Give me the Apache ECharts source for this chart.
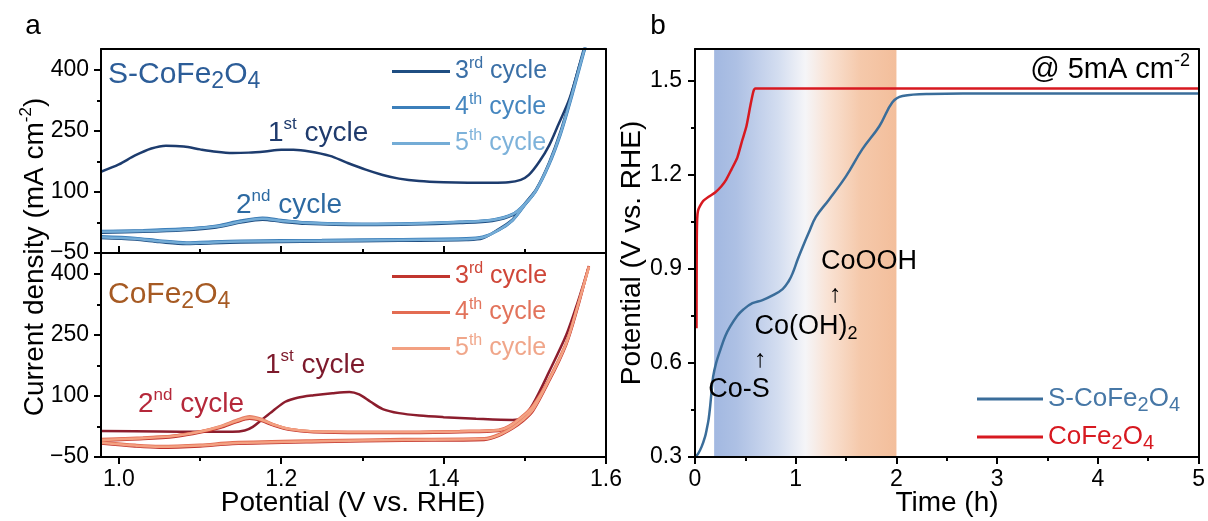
<!DOCTYPE html>
<html>
<head>
<meta charset="utf-8">
<script src="https://cdn.jsdelivr.net/npm/echarts@6/dist/echarts.min.js"></script>
<style>
  html, body { margin: 0; padding: 0; background: #fff; }
  #chart { width: 1208px; height: 521px; }
</style>
</head>
<body>
<div id="chart"></div>
<script>
// panel a, top: S-CoFe2O4 CV cycles  [potential V vs RHE, current mA cm-2]
const sCycle1 = [[0.978,150],[1.00,168],[1.02,190],[1.04,207],[1.058,214],[1.08,212],[1.10,205],[1.12,199],[1.14,196],[1.16,197],[1.18,200],[1.20,204],[1.215,204],[1.235,200],[1.26,189],[1.28,173],[1.304,155],[1.325,142],[1.345,133],[1.37,127],[1.40,124],[1.43,123],[1.46,123],[1.48,124],[1.495,130],[1.505,142],[1.518,175],[1.53,215],[1.54,260],[1.555,330],[1.567,410],[1.575,460]]
const sCycle2 = [[0.978,3],[1.03,5],[1.08,9],[1.12,17],[1.15,30],[1.177,37],[1.20,31],[1.23,25],[1.30,21],[1.36,22],[1.42,26],[1.46,31],[1.485,45],[1.50,70],[1.514,105],[1.53,170],[1.544,245],[1.558,340],[1.573,449],[1.578,480],[1.573,449],[1.558,340],[1.544,245],[1.53,170],[1.514,105],[1.501,72],[1.485,31],[1.468,7],[1.448,-12],[1.428,-16],[1.345,-18],[1.25,-20],[1.15,-22],[1.10,-25],[1.083,-26],[1.05,-21],[1.02,-15],[0.978,-11]]
const sCycle3 = [[0.978,0],[1.03,2],[1.08,6],[1.12,13],[1.15,25],[1.177,32],[1.20,27],[1.23,22],[1.30,19],[1.36,20],[1.42,24],[1.46,29],[1.485,43],[1.50,69],[1.514,106],[1.53,173],[1.544,249],[1.558,345],[1.573,454],[1.578,484],[1.573,454],[1.558,345],[1.544,249],[1.53,173],[1.514,107],[1.501,74],[1.485,33],[1.468,9],[1.448,-14],[1.428,-18],[1.345,-20],[1.25,-22],[1.15,-24],[1.10,-27],[1.083,-28],[1.05,-23],[1.02,-17],[0.978,-13]]
const sCycle4 = [[0.978,4],[1.03,6],[1.08,10],[1.12,16],[1.15,28],[1.177,35],[1.20,30],[1.23,25],[1.30,22],[1.36,23],[1.42,27],[1.46,32],[1.485,46],[1.50,71],[1.514,104],[1.53,167],[1.544,241],[1.558,335],[1.573,444],[1.578,476],[1.573,444],[1.558,335],[1.544,241],[1.53,167],[1.514,103],[1.501,70],[1.485,30],[1.468,6],[1.448,-10],[1.428,-14],[1.345,-16],[1.25,-18],[1.15,-20],[1.10,-23],[1.083,-24],[1.05,-19],[1.02,-13],[0.978,-9]]
const sCycle5 = [[0.978,2],[1.03,4],[1.08,8],[1.12,15],[1.15,27],[1.177,34],[1.20,29],[1.23,24],[1.30,21],[1.36,22],[1.42,26],[1.46,31],[1.485,45],[1.50,70],[1.514,105],[1.53,170],[1.544,245],[1.558,340],[1.573,449],[1.578,480],[1.573,449],[1.558,340],[1.544,245],[1.53,170],[1.514,105],[1.501,72],[1.485,31],[1.468,7],[1.448,-12],[1.428,-16],[1.345,-18],[1.25,-20],[1.15,-22],[1.10,-25],[1.083,-26],[1.05,-21],[1.02,-15],[0.978,-11]]

// panel a, bottom: CoFe2O4 CV cycles
const cCycle1 = [[0.978,14],[1.05,13],[1.10,12],[1.14,12],[1.155,15],[1.165,24],[1.175,40],[1.19,64],[1.205,86],[1.22,96],[1.24,102],[1.263,107],[1.284,110],[1.296,104],[1.31,86],[1.325,68],[1.345,58],[1.37,52],[1.40,48],[1.44,44],[1.485,41],[1.497,47],[1.51,80],[1.53,160],[1.551,250],[1.565,330],[1.579,420]]
const cCycle2 = [[0.978,-7],[1.03,-3],[1.07,3],[1.10,13],[1.125,26],[1.145,41],[1.161,50],[1.175,44],[1.19,31],[1.21,19],[1.24,13],[1.30,11],[1.35,11],[1.42,13],[1.468,16],[1.48,24],[1.497,49],[1.51,74],[1.53,140],[1.551,229],[1.565,320],[1.579,418],[1.565,320],[1.551,229],[1.53,140],[1.51,66],[1.497,40],[1.485,22],[1.468,4],[1.45,-6],[1.35,-8],[1.25,-11],[1.14,-16],[1.10,-22],[1.05,-25],[1.02,-22],[0.978,-15]]
const cCycle3 = [[0.978,-10],[1.03,-6],[1.07,0],[1.10,10],[1.125,22],[1.145,36],[1.161,44],[1.175,39],[1.19,28],[1.21,17],[1.24,11],[1.30,9],[1.35,9],[1.42,11],[1.468,14],[1.48,22],[1.497,46],[1.51,72],[1.53,137],[1.551,226],[1.565,316],[1.578,414],[1.565,316],[1.551,226],[1.53,137],[1.51,63],[1.497,37],[1.485,20],[1.468,2],[1.45,-8],[1.35,-10],[1.25,-13],[1.14,-18],[1.10,-24],[1.05,-27],[1.02,-24],[0.978,-17]]
const cCycle4 = [[0.978,-6],[1.03,-2],[1.07,3],[1.10,13],[1.125,24],[1.145,38],[1.161,46],[1.175,41],[1.19,30],[1.21,19],[1.24,13],[1.30,12],[1.35,12],[1.42,14],[1.468,17],[1.48,26],[1.497,51],[1.51,77],[1.53,143],[1.551,232],[1.565,323],[1.579,420],[1.565,323],[1.551,232],[1.53,143],[1.51,68],[1.497,42],[1.485,24],[1.468,6],[1.45,-4],[1.35,-6],[1.25,-9],[1.14,-14],[1.10,-20],[1.05,-23],[1.02,-20],[0.978,-13]]
const cCycle5 = [[0.978,-8],[1.03,-4],[1.07,2],[1.10,12],[1.125,25],[1.145,39],[1.161,47],[1.175,42],[1.19,30],[1.21,19],[1.24,13],[1.30,11],[1.35,11],[1.42,13],[1.468,16],[1.48,24],[1.497,49],[1.51,74],[1.53,140],[1.551,229],[1.565,320],[1.579,418],[1.565,320],[1.551,229],[1.53,140],[1.51,66],[1.497,40],[1.485,22],[1.468,4],[1.45,-6],[1.35,-8],[1.25,-11],[1.14,-16],[1.10,-22],[1.05,-25],[1.02,-22],[0.978,-15]]

// panel b: chronopotentiometry at 5 mA cm-2  [time h, potential V vs RHE]
const sTrace = [[0,0.30],[0.03,0.31],[0.066,0.333],[0.10,0.365],[0.115,0.386],[0.135,0.42],[0.15,0.46],[0.165,0.51],[0.18,0.556],[0.21,0.60],[0.25,0.64],[0.30,0.685],[0.35,0.716],[0.42,0.75],[0.48,0.77],[0.57,0.79],[0.67,0.80],[0.77,0.815],[0.87,0.835],[0.93,0.86],[0.97,0.886],[1.02,0.93],[1.07,0.97],[1.13,1.015],[1.20,1.065],[1.33,1.12],[1.50,1.195],[1.66,1.28],[1.83,1.354],[1.96,1.43],[2.06,1.45],[2.32,1.457],[3,1.458],[4,1.458],[5,1.458]]
const cTrace = [[0.015,0.71],[0.016,0.85],[0.018,1.0],[0.022,1.06],[0.03,1.085],[0.05,1.10],[0.08,1.115],[0.14,1.13],[0.2,1.143],[0.26,1.162],[0.31,1.184],[0.36,1.215],[0.42,1.254],[0.47,1.31],[0.51,1.353],[0.55,1.42],[0.58,1.465],[0.60,1.474],[1,1.474],[2,1.474],[3,1.474],[4,1.474],[5,1.474]]
const bandRange = [0.19, 2.0]

// ticks
const potTicks = [1.0, 1.2, 1.4, 1.6]
const potMinor = [1.1, 1.3, 1.5]
const curTicks = [-50, 100, 250, 400]
const curMinor = [25, 175, 325]
const timeTicks = [0, 1, 2, 3, 4, 5]
const timeMinor = [0.5, 1.5, 2.5, 3.5, 4.5]
const vTicks = [0.3, 0.6, 0.9, 1.2, 1.5]
const vMinor = [0.45, 0.75, 1.05, 1.35]

const FONT = 'Liberation Sans'

const curFmt = (v) => (v < 0 ? '\u2212' + Math.abs(v) : String(v))
const oneDec = (v) => v.toFixed(1)

function lineAxis(gridIndex, min, max, position) {
  return {
    type: 'value', gridIndex, min, max, position, z: 10,
    splitLine: { show: false },
    axisLine: { show: true, onZero: false, lineStyle: { color: '#000', width: 2 } },
    axisTick: { show: false },
    axisLabel: { show: false },
  }
}

function tickAxis(gridIndex, min, max, position, ticks, opts) {
  const a = lineAxis(gridIndex, min, max, position)
  a.axisLine.show = !opts.minor
  a.axisTick = {
    show: true, customValues: ticks, inside: !!opts.inside,
    length: opts.minor ? 4 : 7, lineStyle: { color: '#000', width: 2 },
  }
  if (opts.fmt) {
    a.axisLabel = {
      show: true, customValues: ticks, formatter: opts.fmt, color: '#000',
      fontSize: 23, fontFamily: FONT, margin: opts.margin || 12,
    }
  }
  return a
}

function rich(size, subRatio) {
  const s = Math.round(size * 0.62)
  const b = Math.round(size * (subRatio || 0.68))
  return {
    n: { fontSize: size, fontFamily: FONT, lineHeight: size + 6 },
    sup: { fontSize: s, fontFamily: FONT, lineHeight: s, verticalAlign: 'top' },
    sub: { fontSize: b, fontFamily: FONT, lineHeight: Math.round(size * 0.55), verticalAlign: 'bottom' },
  }
}

function label(text, x, y, size, color, align, rotation, subRatio) {
  return {
    type: 'text', x, y, rotation: rotation || 0, z: 20,
    style: { text, rich: rich(size, subRatio), fill: color, font: size + 'px ' + FONT, align: align || 'center', verticalAlign: 'middle' },
  }
}

const legendText = {
  a3: '{n|3}{sup|rd}{n| cycle}', a4: '{n|4}{sup|th}{n| cycle}', a5: '{n|5}{sup|th}{n| cycle}',
  b3: '{n|3}{sup|rd}{n| cycle}', b4: '{n|4}{sup|th}{n| cycle}', b5: '{n|5}{sup|th}{n| cycle}',
  'S-CoFe2O4': '{n|S-CoFe}{sub|2}{n|O}{sub|4}', CoFe2O4: '{n|CoFe}{sub|2}{n|O}{sub|4}',
}

function legend(items, left, top, itemWidth, gap, size, subRatio) {
  return {
    data: items.map(([name, color]) => ({ name, textStyle: { color } })),
    left, top, orient: 'vertical', icon: 'rect', itemWidth, itemHeight: 3, itemGap: gap,
    padding: 0, selectedMode: false,
    formatter: (name) => legendText[name],
    textStyle: { fontFamily: FONT, fontSize: size, lineHeight: 28, rich: rich(size, subRatio) },
  }
}

function cv(name, data, color, xi, yi) {
  return {
    name, type: 'line', data, xAxisIndex: xi, yAxisIndex: yi, color,
    showSymbol: false, symbol: 'none', smooth: 0.3, clip: true,
    lineStyle: { color, width: 2.5 },
  }
}

const band = new echarts.graphic.LinearGradient(0, 0, 1, 0, [
  { offset: 0, color: '#a2b8e1' },
  { offset: 0.12, color: '#adc0e4' },
  { offset: 0.35, color: '#d3ddf0' },
  { offset: 0.5, color: '#f5f5f8' },
  { offset: 0.62, color: '#f9e3d5' },
  { offset: 0.8, color: '#f5c9ab' },
  { offset: 1, color: '#f3be9b' },
])

const chart = echarts.init(document.getElementById('chart'))

chart.setOption({
  animation: false,
  backgroundColor: '#fff',
  grid: [
    { left: 101, top: 49, width: 505, height: 204 },
    { left: 101, top: 253, width: 505, height: 204 },
    { left: 695, top: 49, width: 505, height: 408 },
  ],
  xAxis: [
    tickAxis(0, 0.978, 1.6, 'bottom', potTicks, { inside: true }),
    tickAxis(0, 0.978, 1.6, 'bottom', potMinor, { inside: true, minor: true }),
    lineAxis(0, 0.978, 1.6, 'top'),
    tickAxis(1, 0.978, 1.6, 'bottom', potTicks, { fmt: oneDec, margin: 11 }),
    tickAxis(1, 0.978, 1.6, 'bottom', potMinor, { minor: true }),
    tickAxis(2, 0, 5, 'bottom', timeTicks, { fmt: (v) => String(v), margin: 11 }),
    tickAxis(2, 0, 5, 'bottom', timeMinor, { minor: true }),
    lineAxis(2, 0, 5, 'top'),
  ],
  yAxis: [
    tickAxis(0, -50, 452, 'left', curTicks, { fmt: curFmt }),
    tickAxis(0, -50, 452, 'left', curMinor, { minor: true }),
    lineAxis(0, -50, 452, 'right'),
    tickAxis(1, -50, 452, 'left', curTicks, { fmt: curFmt }),
    tickAxis(1, -50, 452, 'left', curMinor, { minor: true }),
    lineAxis(1, -50, 452, 'right'),
    tickAxis(2, 0.3, 1.6, 'left', vTicks, { fmt: oneDec, margin: 13 }),
    tickAxis(2, 0.3, 1.6, 'left', vMinor, { minor: true }),
    lineAxis(2, 0.3, 1.6, 'right'),
  ],
  legend: [
    legend([['a3', '#3a6fa6'], ['a4', '#4586bf'], ['a5', '#7db2da']], 392, 56, 58, 5, 25),
    legend([['b3', '#cf4638'], ['b4', '#e2735b'], ['b5', '#f0a68a']], 392, 261, 58, 5, 25),
    legend([['S-CoFe2O4', '#4677a6'], ['CoFe2O4', '#d71920']], 977, 383, 66, 6, 26, 0.78),
  ],
  graphic: [
    label('a', 33, 26, 28, '#000'),
    label('b', 658, 26, 28, '#000'),
    label('{n|Current density (mA cm}{sup|-2}{n|)}', 35, 257, 28, '#000', 'center', Math.PI / 2),
    label('{n|Potential (V vs. RHE)}', 353, 503, 28, '#000'),
    label('{n|Potential (V vs. RHE)}', 632, 253, 28, '#000', 'center', Math.PI / 2),
    label('{n|Time (h)}', 947, 503, 28, '#000'),
    label('{n|S-CoFe}{sub|2}{n|O}{sub|4}', 108, 75, 30, '#2c5d98', 'left', 0, 0.78),
    label('{n|1}{sup|st}{n| cycle}', 268, 133, 28, '#1f3b6d', 'left'),
    label('{n|2}{sup|nd}{n| cycle}', 236, 205, 28, '#2d6aa2', 'left'),
    label('{n|CoFe}{sub|2}{n|O}{sub|4}', 108, 295, 30, '#a65a23', 'left', 0, 0.78),
    label('{n|1}{sup|st}{n| cycle}', 265, 365, 28, '#7d1a2c', 'left'),
    label('{n|2}{sup|nd}{n| cycle}', 138, 404, 28, '#b5283a', 'left'),
    label('{n|@ 5mA cm}{sup|-2}', 1190, 70, 29, '#000', 'right'),
    label('{n|CoOOH}', 869, 262, 27, '#000'),
    label('{n|\u2191}', 835, 295, 25, '#000'),
    label('{n|Co(OH)}{sub|2}', 806, 327, 27, '#000'),
    label('{n|\u2191}', 760, 360, 25, '#000'),
    label('{n|Co-S}', 739, 390, 27, '#000'),
  ],
  series: [
    cv('a1', sCycle1, '#1d3c6e', 0, 0),
    cv('a2', sCycle2, '#3a78b0', 0, 0),
    cv('a3', sCycle3, '#1f4e82', 0, 0),
    cv('a4', sCycle4, '#3c7fba', 0, 0),
    cv('a5', sCycle5, '#74acd6', 0, 0),
    cv('b1', cCycle1, '#8c1d2d', 3, 3),
    cv('b2', cCycle2, '#e57d63', 3, 3),
    cv('b3', cCycle3, '#c1352e', 3, 3),
    cv('b4', cCycle4, '#e36c52', 3, 3),
    cv('b5', cCycle5, '#f3a182', 3, 3),
    {
      name: 'S-CoFe2O4', type: 'line', data: sTrace, xAxisIndex: 5, yAxisIndex: 6, color: '#3a6d9a',
      showSymbol: false, symbol: 'none', smooth: 0.4,
      lineStyle: { color: '#3a6d9a', width: 2.5 },
      markArea: { silent: true, itemStyle: { color: band }, data: [[{ xAxis: bandRange[0] }, { xAxis: bandRange[1] }]] },
    },
    {
      name: 'CoFe2O4', type: 'line', data: cTrace, xAxisIndex: 5, yAxisIndex: 6, color: '#d71920',
      showSymbol: false, symbol: 'none', smooth: 0.2,
      lineStyle: { color: '#d71920', width: 2.5 },
    },
  ],
})
</script>
</body>
</html>
